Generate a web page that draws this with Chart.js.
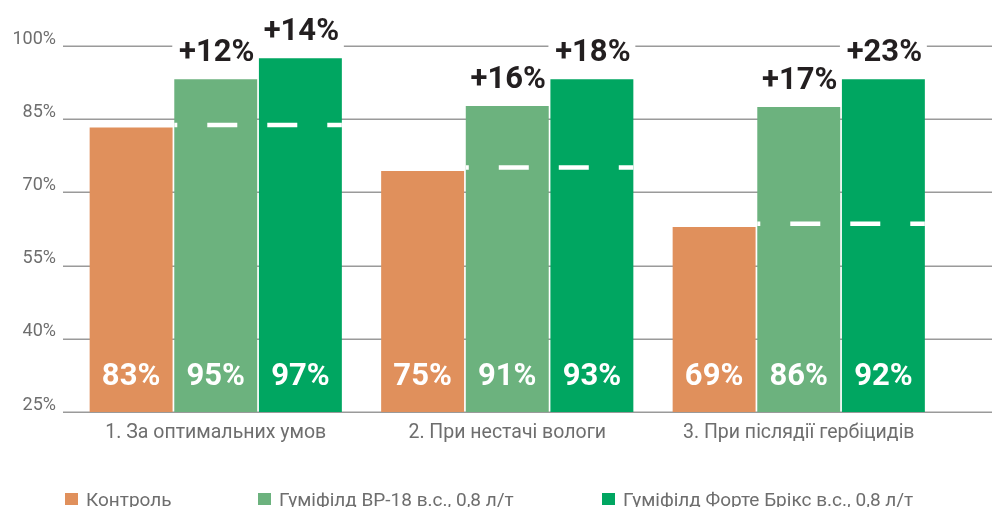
<!DOCTYPE html>
<html lang="uk">
<head>
<meta charset="utf-8">
<script src="https://cdn.jsdelivr.net/npm/chart.js@4/dist/chart.umd.min.js"></script>
<style>
    html, body { margin: 0; padding: 0; background: #FFFFFF; }
    #wrap { width: 992px; height: 507px; }
</style>
</head>
<body>
<div id="wrap"><canvas id="yieldChart" width="992" height="507"></canvas></div>
<script>
"use strict";

// Categories (x axis)
const categories = [
    "1. За оптимальних умов",
    "2. При нестачі вологи",
    "3. При післядії гербіцидів"
];

// Series names
const seriesNames = [
    "Контроль",
    "Гуміфілд ВР-18 в.с., 0,8 л/т",
    "Гуміфілд Форте Брікс в.с., 0,8 л/т"
];

// Bar heights as drawn in the picture (%)
const controlValues = [83.3, 74.4, 62.9];
const vr18Values = [93.2, 87.7, 87.5];
const forteValues = [97.5, 93.2, 93.2];

// Printed labels inside the bars
const controlLabels = ["83%", "75%", "69%"];
const vr18Labels = ["95%", "91%", "86%"];
const forteLabels = ["97%", "93%", "92%"];

// Gain labels above the bars
const vr18Gain = ["+12%", "+16%", "+17%"];
const forteGain = ["+14%", "+18%", "+23%"];

// Control level shown as a dashed line across the treated bars
const controlLevel = [83.8, 75.1, 63.6];

// Y axis ticks
const yTicks = [25, 40, 55, 70, 85, 100];

const seriesColors = ["#E0905C", "#6CB27E", "#00A661"];

// Where each legend item starts (layout only)
const legendStartX = [65, 258, 602];

const FONT = "Roboto, 'DejaVu Sans', sans-serif";

// ------------------------------------
// Plugin: full width grid lines,
// white patches behind the gain labels,
// dashed control level, value labels
// and the bottom legend
// ------------------------------------
const decorPlugin = {
    id: "decor",
    beforeDatasetsDraw(chart) {
        const ctx = chart.ctx;
        const y = chart.scales.y;
        ctx.save();
        ctx.strokeStyle = "#9A9A9A";
        ctx.lineWidth = 1.5;
        yTicks.forEach(t => {
            const py = Math.round(y.getPixelForValue(t)) + 0.25;
            ctx.beginPath();
            ctx.moveTo(chart.chartArea.left - 7, py);
            ctx.lineTo(chart.width, py);
            ctx.stroke();
        });
        // white patches above treated bars
        ctx.fillStyle = "#FFFFFF";
        [1, 2].forEach(d => {
            chart.getDatasetMeta(d).data.forEach(bar => {
                const w = bar.width;
                ctx.fillRect(bar.x - w / 2 - 2, bar.y - 46, w + 4, 46);
            });
        });
        ctx.restore();
    },
    afterDatasetsDraw(chart) {
        const ctx = chart.ctx;
        const y = chart.scales.y;
        const area = chart.chartArea;
        ctx.save();

        // dashed control level
        const m1 = chart.getDatasetMeta(1).data;
        const m2 = chart.getDatasetMeta(2).data;
        ctx.strokeStyle = "#FFFFFF";
        ctx.lineWidth = 4.5;
        ctx.setLineDash([30, 30]);
        ctx.lineDashOffset = 27;
        controlLevel.forEach((v, i) => {
            const py = y.getPixelForValue(v);
            const x0 = m1[i].x - m1[i].width / 2;
            const x1 = m2[i].x + m2[i].width / 2;
            ctx.beginPath();
            ctx.moveTo(x0, py);
            ctx.lineTo(x1, py);
            ctx.stroke();
        });
        ctx.setLineDash([]);

        // labels inside bars
        ctx.textAlign = "center";
        ctx.textBaseline = "alphabetic";
        ctx.font = "bold 31px " + FONT;
        ctx.fillStyle = "#FFFFFF";
        const inside = [controlLabels, vr18Labels, forteLabels];
        inside.forEach((labels, d) => {
            chart.getDatasetMeta(d).data.forEach((bar, i) => {
                ctx.fillText(labels[i], bar.x, area.bottom - 27);
            });
        });

        // gain labels above bars
        ctx.fillStyle = "#231F20";
        ctx.font = "bold 31px " + FONT;
        [[1, vr18Gain], [2, forteGain]].forEach(([d, labels]) => {
            chart.getDatasetMeta(d).data.forEach((bar, i) => {
                ctx.fillText(labels[i], bar.x + 1, bar.y - 18);
            });
        });
        ctx.restore();
    },
    afterDraw(chart) {
        // legend along the bottom edge
        const ctx = chart.ctx;
        ctx.save();
        ctx.font = "19px " + FONT;
        ctx.textAlign = "left";
        ctx.textBaseline = "alphabetic";
        seriesNames.forEach((name, i) => {
            const x = legendStartX[i];
            ctx.fillStyle = seriesColors[i];
            ctx.fillRect(x, 493, 13, 12);
            ctx.fillStyle = "#6E6E6E";
            ctx.fillText(name, x + 21, 506);
        });
        ctx.restore();
    }
};

const datasets = [controlValues, vr18Values, forteValues].map((values, i) => ({
    label: seriesNames[i],
    data: values,
    backgroundColor: seriesColors[i],
    borderWidth: 0,
    categoryPercentage: 0.871,
    barPercentage: 0.98
}));

new Chart(document.getElementById("yieldChart"), {
    type: "bar",
    data: {
        labels: categories,
        datasets: datasets
    },
    options: {
        responsive: false,
        animation: false,
        events: [],
        layout: {
            padding: { top: 46, right: 47.5, bottom: 0, left: 0 }
        },
        plugins: {
            legend: { display: false },
            tooltip: { enabled: false }
        },
        scales: {
            x: {
                grid: { display: false, drawTicks: false },
                border: { display: false },
                ticks: {
                    color: "#6E6E6E",
                    font: { family: FONT, size: 19.5 },
                    padding: 9,
                    maxRotation: 0
                },
                afterFit(scale) {
                    scale.height = 95;
                }
            },
            y: {
                min: 25,
                max: 100,
                afterBuildTicks(scale) {
                    scale.ticks = yTicks.map(v => ({ value: v }));
                },
                grid: { display: false, drawTicks: false },
                border: { display: false },
                ticks: {
                    color: "#6E6E6E",
                    font: { family: FONT, size: 18 },
                    padding: 14,
                    labelOffset: -7,
                    callback: v => v + "%"
                },
                afterFit(scale) {
                    scale.width = 70;
                }
            }
        }
    },
    plugins: [decorPlugin]
});
</script>
</body>
</html>
